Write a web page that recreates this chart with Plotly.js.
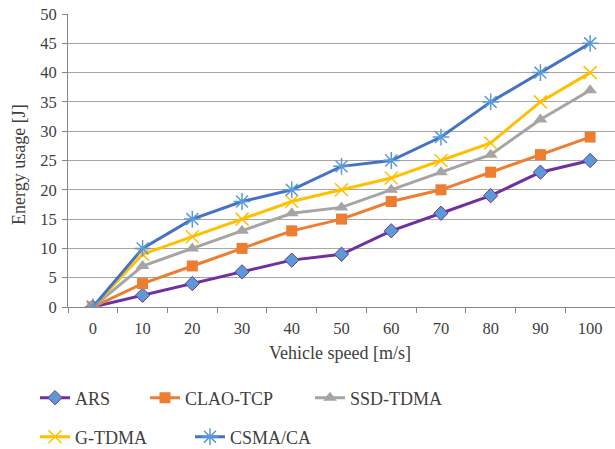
<!DOCTYPE html>
<html><head><meta charset="utf-8">
<script src="https://cdn.plot.ly/plotly-3.0.1.min.js"></script>
<style>html,body{margin:0;padding:0;background:#fff}#c{width:615px;height:449px}</style>
</head><body><div id="c"></div>
<script>
var speeds = ['0','10','20','30','40','50','60','70','80','90','100'];
var ars   = [0,2,4,6,8,9,13,16,19,23,25];
var clao  = [0,4,7,10,13,15,18,20,23,26,29];
var ssd   = [0,7,10,13,16,17,20,23,26,32,37];
var gtdma = [0,9,12,15,18,20,22,25,28,35,40];
var csma  = [0,10,15,18,20,24,25,29,35,40,45];
var yTicks = [0,5,10,15,20,25,30,35,40,45,50];

var FONT = 'Liberation Serif, Times New Roman, serif';
var TXT = '#404040';
var L = 68, R = 615, T = 14, B = 307;

function tr(name, y, color, sym, mcolor, msize, mline, lg){
  return {x: speeds, y: y, name: name, type:'scatter', mode:'lines+markers',
    line:{color:color, width:3},
    marker:{symbol:sym, size:msize, color:mcolor, line:mline},
    legend: lg};
}
var data = [
  tr('ARS', ars, '#7030A0', 'diamond', '#5B9BD5', 11, {color:'#7030A0', width:1}, 'legend'),
  tr('CLAO-TCP', clao, '#ED7D31', 'square', '#ED7D31', 11, {color:'#ED7D31', width:0}, 'legend2'),
  tr('SSD-TDMA', ssd, '#A5A5A5', 'triangle-up', '#A5A5A5', 12, {color:'#A5A5A5', width:0}, 'legend3'),
  tr('G-TDMA', gtdma, '#FFC000', 'x-thin-open', '#FFC000', 13, {color:'#FFC000', width:1.5}, 'legend4'),
  tr('CSMA/CA', csma, '#4472C4', 'asterisk-open', '#5B9BD5', 14, {color:'#5B9BD5', width:1.5}, 'legend5')
];
function lg(px, py){
  return {xref:'container', yref:'container', x:px/615, y:1-py/449, xanchor:'left', yanchor:'middle',
    bgcolor:'rgba(0,0,0,0)', font:{family:FONT, size:18, color:TXT}, itemwidth:30};
}
function px2x(px){ return (px-L)/(R-L); }
function py2y(py){ return (B-py)/(B-T); }
var layout = {
  width:615, height:449,
  margin:{l:L, r:615-R, t:T, b:449-B, autoexpand:false},
  paper_bgcolor:'#fff', plot_bgcolor:'#fff',
  font:{family:FONT, size:16, color:TXT},
  xaxis:{type:'category', range:[-0.5,10.5], tickson:'boundaries', ticks:'outside', ticklen:5,
    tickcolor:'#868686', showline:true, linecolor:'#868686', linewidth:1, showgrid:false,
    tickangle:0, ticklabelstandoff:6, tickfont:{family:FONT, size:16.5, color:TXT}},
  yaxis:{range:[0,50], tickvals:yTicks, ticks:'outside', ticklen:5, tickcolor:'#868686',
    showline:true, linecolor:'#868686', linewidth:1, gridcolor:'#A6A6A6', gridwidth:1,
    zeroline:false, ticklabelstandoff:2, tickfont:{family:FONT, size:16.5, color:TXT}},
  annotations:[
    {xref:'paper', yref:'paper', x:px2x(340), y:py2y(353), text:'Vehicle speed [m/s]', showarrow:false,
      xanchor:'center', yanchor:'middle', font:{family:FONT, size:18, color:TXT}},
    {xref:'paper', yref:'paper', x:px2x(19), y:py2y(165), text:'Energy usage [J]', showarrow:false,
      textangle:-90, xanchor:'center', yanchor:'middle', font:{family:FONT, size:18, color:TXT}}
  ],
  showlegend:true,
  legend: lg(35, 398),
  legend2: lg(145, 398),
  legend3: lg(310, 398),
  legend4: lg(35, 437),
  legend5: lg(190, 437)
};
Plotly.newPlot('c', data, layout, {displayModeBar:false});
</script></body></html>
